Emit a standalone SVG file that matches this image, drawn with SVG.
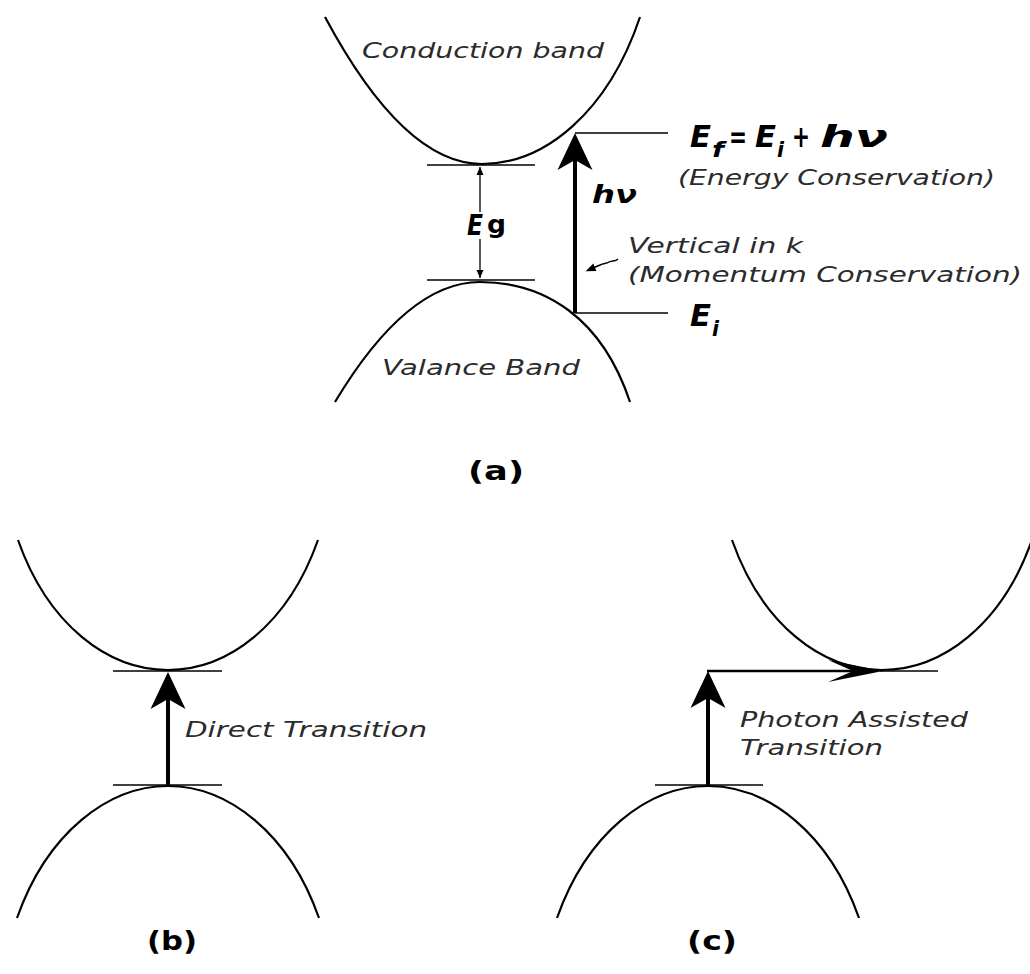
<svg xmlns="http://www.w3.org/2000/svg" width="1030" height="974" viewBox="0 0 1030 974">
<style>
.band{fill:none;stroke:#000;stroke-width:2.2}
.tick{fill:none;stroke:#000;stroke-width:1.3}
.thick{fill:none;stroke:#000;stroke-width:4}
.mid{fill:none;stroke:#000;stroke-width:2.6}
.thin{fill:none;stroke:#000;stroke-width:1.3}
.lbl{font-family:"DejaVu Sans","Verdana",sans-serif;font-style:italic;font-size:21px;fill:#2b2b2b}
.eq{font-family:"DejaVu Sans","Verdana",sans-serif;font-style:italic;font-weight:bold;fill:#000}
.cap{font-family:"DejaVu Sans","Verdana",sans-serif;font-weight:bold;font-size:26px;fill:#000}
</style>
<defs>
<marker id="head" markerUnits="userSpaceOnUse" markerWidth="40" markerHeight="40" refX="10" refY="17.5" orient="auto" overflow="visible"><path d="M0,0 L37,17.5 L0,35 L10,17.5 Z" fill="#000"/></marker>
<marker id="longHead" markerUnits="userSpaceOnUse" markerWidth="60" markerHeight="24" refX="25" refY="11" orient="auto" overflow="visible"><path d="M0,0 L55,11 L0,22 L25,11 Z" fill="#000"/></marker>
<marker id="tiny" markerUnits="userSpaceOnUse" markerWidth="10" markerHeight="8" refX="8" refY="3.5" orient="auto-start-reverse" overflow="visible"><path d="M0,0 L8,3.5 L0,7 Z" fill="#000"/></marker>
<marker id="squigHead" markerUnits="userSpaceOnUse" markerWidth="12" markerHeight="10" refX="2" refY="4" orient="auto" overflow="visible"><path d="M0,0 L10,4 L0,8 Z" fill="#000"/></marker>
</defs>
<rect width="1030" height="974" fill="#fff"/>

<!-- Panel (a) -->
<g id="a-conduction">
<path class="band" d="M325,17 C377,114 430,164 482,164 C545,164 608,112 640,17"/>
<text class="lbl" x="362" y="58" textLength="242" lengthAdjust="spacingAndGlyphs">Conduction band</text>
</g>
<g id="a-valence">
<path class="band" d="M335,402 C383,322 432,282 480,282 C545,282 602,318 630,402"/>
<text class="lbl" x="382" y="375" textLength="198" lengthAdjust="spacingAndGlyphs">Valance Band</text>
</g>
<g id="a-levels">
<line class="tick" x1="427" y1="165" x2="535" y2="165"/>
<line class="tick" x1="427" y1="280" x2="535" y2="280"/>
<line class="tick" x1="575" y1="133" x2="668" y2="133"/>
<line class="tick" x1="575" y1="313" x2="668" y2="313"/>
</g>
<g id="a-eg-label">
<text class="eq" x="467" y="235" font-size="28" textLength="16" lengthAdjust="spacingAndGlyphs">E</text>
<text x="487" y="233" font-family="DejaVu Sans, Verdana, sans-serif" font-weight="bold" font-size="24" textLength="19" lengthAdjust="spacingAndGlyphs">g</text>
</g>
<g id="a-hv-label">
<text class="eq" x="592" y="203" font-size="25" textLength="45" lengthAdjust="spacingAndGlyphs">hν</text>
</g>
<g id="a-ef-label">
<text class="eq" x="690" y="147" font-size="30" textLength="21" lengthAdjust="spacingAndGlyphs">E</text>
<text class="eq" x="712" y="157" font-size="21" textLength="12" lengthAdjust="spacingAndGlyphs">f</text>
<text class="eq" x="729" y="147" font-size="30" textLength="18" lengthAdjust="spacingAndGlyphs">=</text>
<text class="eq" x="755" y="147" font-size="30" textLength="21" lengthAdjust="spacingAndGlyphs">E</text>
<text class="eq" x="777" y="157" font-size="21" textLength="7" lengthAdjust="spacingAndGlyphs">i</text>
<text class="eq" x="792" y="147" font-size="30" textLength="18" lengthAdjust="spacingAndGlyphs">+</text>
<text class="eq" x="820" y="147" font-size="30" textLength="68" lengthAdjust="spacingAndGlyphs">hν</text>
<text class="lbl" x="678" y="185" textLength="317" lengthAdjust="spacingAndGlyphs">(Energy Conservation)</text>
</g>
<g id="a-momentum-label">
<text class="lbl" x="628" y="253" textLength="175" lengthAdjust="spacingAndGlyphs">Vertical in k</text>
<text class="lbl" x="628" y="282" textLength="394" lengthAdjust="spacingAndGlyphs">(Momentum Conservation)</text>
</g>
<g id="a-ei-label">
<text class="eq" x="690" y="326" font-size="30" textLength="21" lengthAdjust="spacingAndGlyphs">E</text>
<text class="eq" x="712" y="336" font-size="21" textLength="7" lengthAdjust="spacingAndGlyphs">i</text>
</g>
<g id="a-caption"><text class="cap" x="468" y="480" textLength="56" lengthAdjust="spacingAndGlyphs">(a)</text></g>

<!-- Panel (b) -->
<g id="b-conduction"><path class="band" d="M18,540 C48,625 108,670 168,670 C228,670 288,625 318,540"/></g>
<g id="b-valence"><path class="band" d="M17,918 C47,833 108,786 168,786 C228,786 289,833 319,918"/></g>
<g id="b-levels">
<line class="tick" x1="113" y1="671" x2="222" y2="671"/>
<line class="tick" x1="113" y1="785" x2="222" y2="785"/>
</g>
<g id="b-label"><text class="lbl" x="185" y="737" textLength="242" lengthAdjust="spacingAndGlyphs">Direct Transition</text></g>
<g id="b-caption"><text class="cap" x="147" y="950" textLength="50" lengthAdjust="spacingAndGlyphs">(b)</text></g>

<!-- Panel (c) -->
<g id="c-conduction"><path class="band" d="M732,540 C762,625 822,670 882,670 C942,670 1002,625 1032,540"/></g>
<g id="c-valence"><path class="band" d="M557,918 C587,833 648,786 708,786 C768,786 829,833 859,918"/></g>
<g id="c-levels">
<line class="tick" x1="880" y1="671" x2="938" y2="671"/>
<line class="tick" x1="655" y1="785" x2="763" y2="785"/>
</g>
<g id="c-label">
<text class="lbl" x="740" y="727" textLength="228" lengthAdjust="spacingAndGlyphs">Photon Assisted</text>
<text class="lbl" x="740" y="755" textLength="143" lengthAdjust="spacingAndGlyphs">Transition</text>
</g>
<g id="c-caption"><text class="cap" x="687" y="950" textLength="50" lengthAdjust="spacingAndGlyphs">(c)</text></g>

<!-- Connectors -->
<g id="connectors">
<line class="thin" x1="480" y1="167" x2="480" y2="212" marker-start="url(#tiny)"/>
<line class="thin" x1="480" y1="239" x2="480" y2="278" marker-end="url(#tiny)"/>
<line class="thick" x1="575" y1="313" x2="575" y2="160" marker-end="url(#head)"/>
<path fill="none" stroke="#000" stroke-width="1.5" d="M618,259 C615,262 612,260 609,262 C606,264 604,263 600,265 L593,268" marker-end="url(#squigHead)"/>
<line class="thick" x1="168" y1="785" x2="168" y2="699" marker-end="url(#head)"/>
<line class="thick" x1="708" y1="785" x2="708" y2="698" marker-end="url(#head)"/>
<line class="mid" x1="707" y1="671" x2="853" y2="671" marker-end="url(#longHead)"/>
</g>
</svg>
